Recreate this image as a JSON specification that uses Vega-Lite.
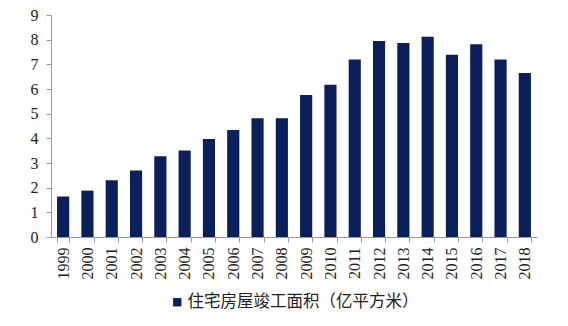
{
  "$schema": "https://vega.github.io/schema/vega-lite/v6.json",
  "width": 486,
  "height": 222,
  "autosize": "none",
  "padding": {"left": 51, "top": 15, "right": 31, "bottom": 89},
  "background": "white",
  "data": {
    "values": [
      {"year": "1999", "value": 1.64, "series": "住宅房屋竣工面积（亿平方米）"},
      {"year": "2000", "value": 1.88, "series": "住宅房屋竣工面积（亿平方米）"},
      {"year": "2001", "value": 2.30, "series": "住宅房屋竣工面积（亿平方米）"},
      {"year": "2002", "value": 2.70, "series": "住宅房屋竣工面积（亿平方米）"},
      {"year": "2003", "value": 3.27, "series": "住宅房屋竣工面积（亿平方米）"},
      {"year": "2004", "value": 3.51, "series": "住宅房屋竣工面积（亿平方米）"},
      {"year": "2005", "value": 3.97, "series": "住宅房屋竣工面积（亿平方米）"},
      {"year": "2006", "value": 4.34, "series": "住宅房屋竣工面积（亿平方米）"},
      {"year": "2007", "value": 4.81, "series": "住宅房屋竣工面积（亿平方米）"},
      {"year": "2008", "value": 4.81, "series": "住宅房屋竣工面积（亿平方米）"},
      {"year": "2009", "value": 5.76, "series": "住宅房屋竣工面积（亿平方米）"},
      {"year": "2010", "value": 6.17, "series": "住宅房屋竣工面积（亿平方米）"},
      {"year": "2011", "value": 7.20, "series": "住宅房屋竣工面积（亿平方米）"},
      {"year": "2012", "value": 7.95, "series": "住宅房屋竣工面积（亿平方米）"},
      {"year": "2013", "value": 7.86, "series": "住宅房屋竣工面积（亿平方米）"},
      {"year": "2014", "value": 8.12, "series": "住宅房屋竣工面积（亿平方米）"},
      {"year": "2015", "value": 7.39, "series": "住宅房屋竣工面积（亿平方米）"},
      {"year": "2016", "value": 7.81, "series": "住宅房屋竣工面积（亿平方米）"},
      {"year": "2017", "value": 7.20, "series": "住宅房屋竣工面积（亿平方米）"},
      {"year": "2018", "value": 6.65, "series": "住宅房屋竣工面积（亿平方米）"}
    ]
  },
  "mark": {"type": "bar"},
  "encoding": {
    "x": {
      "field": "year",
      "type": "ordinal",
      "scale": {"paddingInner": 0.5, "paddingOuter": 0.25},
      "axis": {
        "title": null,
        "labelAngle": -90,
        "labelFont": "Liberation Serif",
        "labelFontSize": 16,
        "labelColor": "#222",
        "labelPadding": 5,
        "tickBand": "extent",
        "tickSize": 5,
        "tickColor": "#999",
        "domainColor": "#999",
        "labelBaseline": "middle"
      }
    },
    "y": {
      "field": "value",
      "type": "quantitative",
      "scale": {"domain": [0, 9], "nice": false},
      "axis": {
        "title": null,
        "values": [0, 1, 2, 3, 4, 5, 6, 7, 8, 9],
        "grid": false,
        "labelFont": "Liberation Serif",
        "labelFontSize": 16,
        "labelColor": "#222",
        "labelPadding": 8,
        "tickSize": 5,
        "tickColor": "#999",
        "domainColor": "#999"
      }
    },
    "color": {
      "field": "series",
      "type": "nominal",
      "scale": {"range": ["#0b1f5c"]},
      "legend": {
        "title": null,
        "orient": "none",
        "legendX": 118,
        "legendY": 279,
        "symbolType": "square",
        "symbolSize": 70,
        "labelFont": "Noto Sans CJK SC",
        "labelFontSize": 16.5,
        "labelLimit": 400,
        "labelColor": "#222",
        "labelOffset": 2
      }
    }
  },
  "config": {"view": {"stroke": null}, "font": "Liberation Serif"}
}
